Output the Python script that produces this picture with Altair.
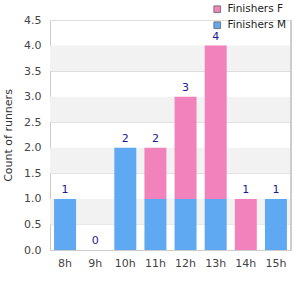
import altair as alt
import pandas as pd

hours = ["8h", "9h", "10h", "11h", "12h", "13h", "14h", "15h"]
finishers_m = [1, 0, 2, 1, 1, 1, 0, 1]
finishers_f = [0, 0, 0, 1, 2, 3, 1, 0]
band_lo = [0.5, 1.5, 2.5, 3.5]
band_hi = [1.0, 2.0, 3.0, 4.0]

rows = []
for h, m, f in zip(hours, finishers_m, finishers_f):
    rows.append({"hour": h, "series": "Finishers M", "count": m, "ord": 0})
    rows.append({"hour": h, "series": "Finishers F", "count": f, "ord": 1})
df = pd.DataFrame(rows)
tot = pd.DataFrame({"hour": hours, "total": [m + f for m, f in zip(finishers_m, finishers_f)]})
bands = pd.DataFrame({"lo": band_lo, "hi": band_hi})

W, H = 241, 230
FONT = "DejaVu Sans"
TITLE = "Count of runners"
yscale = alt.Scale(domain=[0, 4.5], nice=False)
xscale = alt.Scale(domain=hours, paddingInner=0.27, paddingOuter=0.135)

yaxis = alt.Axis(values=[0, 0.5, 1, 1.5, 2, 2.5, 3, 3.5, 4, 4.5], format=".1f",
                 ticks=False, domainColor="#cccccc", gridColor="#dddddd",
                 labelColor="#444444", labelFontSize=11, labelFont=FONT,
                 labelOverlap=False, labelBound=False,
                 labelPadding=9, titleFont=FONT, titleFontSize=11,
                 titleFontWeight="normal", titleColor="#333333", titlePadding=10)
xaxis = alt.Axis(labelAngle=0, ticks=False, domainColor="#cccccc",
                 labelColor="#444444", labelFontSize=11, labelFont=FONT,
                 labelPadding=7, grid=False)

band_layer = alt.Chart(bands).mark_rect(color="#f2f2f2").encode(
    x=alt.value(0), x2=alt.value(W),
    y=alt.Y("lo:Q", scale=yscale, axis=yaxis, title=TITLE), y2="hi:Q",
)

bars = alt.Chart(df).mark_bar().encode(
    x=alt.X("hour:N", scale=xscale, sort=hours, title=None, axis=xaxis),
    y=alt.Y("count:Q", scale=yscale, stack="zero", title=TITLE, axis=yaxis),
    color=alt.Color("series:N",
                    scale=alt.Scale(domain=["Finishers F", "Finishers M"],
                                    range=["#f282bb", "#5fa9f2"]),
                    legend=alt.Legend(title=None, orient="none", legendX=162, legendY=-16,
                                      symbolType="square", symbolSize=45,
                                      symbolStrokeColor="#777777", symbolStrokeWidth=1,
                                      labelFont=FONT, labelFontSize=10.5, labelColor="#222222",
                                      rowPadding=4, labelOffset=5)),
    order=alt.Order("ord:Q"),
)

labels = alt.Chart(tot).mark_text(baseline="bottom", dy=-4, color="#1a1a99",
                                  font=FONT, fontSize=11).encode(
    x=alt.X("hour:N", scale=xscale, sort=hours, title=None, axis=xaxis),
    y=alt.Y("total:Q", scale=yscale, title=TITLE, axis=yaxis),
    text="total:Q",
)

right = alt.Chart(tot).mark_rule(color="#cccccc").encode(
    x=alt.value(W), y=alt.value(0), y2=alt.value(H)
)

chart = alt.layer(band_layer, bars, labels, right).properties(
    width=W, height=H,
    autosize=alt.AutoSizeParams(type="none"),
    padding={"left": 50, "top": 20, "right": 9, "bottom": 50},
).configure_view(stroke=None)

chart.save("out.html", embed_options={"renderer": "svg", "actions": False})
